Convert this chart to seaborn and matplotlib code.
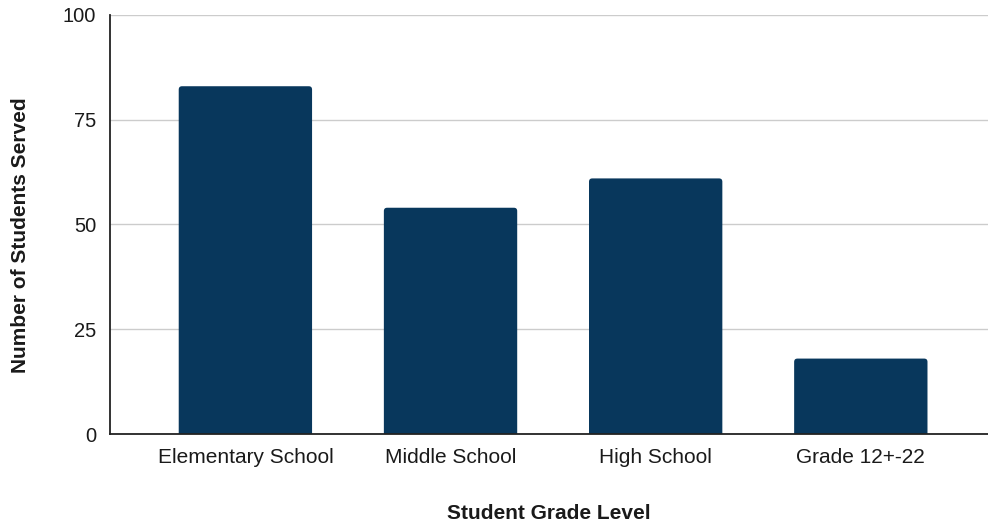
import pandas as pd
import matplotlib
matplotlib.use('Agg')
import matplotlib.pyplot as plt
import seaborn as sns
from matplotlib.patches import FancyBboxPatch

# du lieu doc tu hinh
GRADE_LEVELS = ['Elementary School', 'Middle School', 'High School', 'Grade 12+-22']
STUDENTS = [83, 54, 61, 18]
Y_TICKS = [0, 25, 50, 75, 100]
BAR_COLOR = '#08375c'

df = pd.DataFrame({'level': GRADE_LEVELS, 'students': STUDENTS})

sns.set_theme(style="white")
plt.rcParams['font.family'] = ['Liberation Sans', 'DejaVu Sans']

fig, ax = plt.subplots(figsize=(9.88, 5.25), dpi=100)
fig.subplots_adjust(left=110/988, right=1.0, top=1-15/525, bottom=1-434/525)

sns.barplot(data=df, x='level', y='students', color=BAR_COLOR, saturation=1,
            width=0.65, ax=ax, zorder=3)

ax.set_xlim(-0.66, 3.62)
ax.set_ylim(0, 100)

# bo tron goc tren cua cot
aspect = (100 / 419) / (4.28 / 878)
for p in list(ax.patches):
    x, w, h = p.get_x(), p.get_width(), p.get_height()
    p.remove()
    ax.add_patch(FancyBboxPatch((x, -5), w, h + 5,
                                boxstyle="round,pad=0,rounding_size=0.016",
                                mutation_aspect=aspect, facecolor=BAR_COLOR,
                                edgecolor='none', zorder=3))

ax.set_yticks(Y_TICKS)
ax.yaxis.grid(True, color='#cccccc', linewidth=1.0, zorder=0)
ax.tick_params(axis='y', length=0, labelsize=14.5, colors='#1a1a1a', pad=10)
ax.tick_params(axis='x', length=0, labelsize=15, colors='#1a1a1a', pad=10)

for side in ['top', 'right']:
    ax.spines[side].set_visible(False)
for side in ['left', 'bottom']:
    ax.spines[side].set_color('#222222')
    ax.spines[side].set_linewidth(1.3)
    ax.spines[side].set_zorder(4)

ax.set_xlabel('Student Grade Level', fontsize=15, fontweight='bold', labelpad=27, color='#1a1a1a')
ax.set_ylabel('Number of Students Served', fontsize=15, fontweight='bold', color='#1a1a1a')
ax.yaxis.set_label_coords(-0.091, 0.475)

fig.savefig('out.png', dpi=100)
plt.close(fig)
